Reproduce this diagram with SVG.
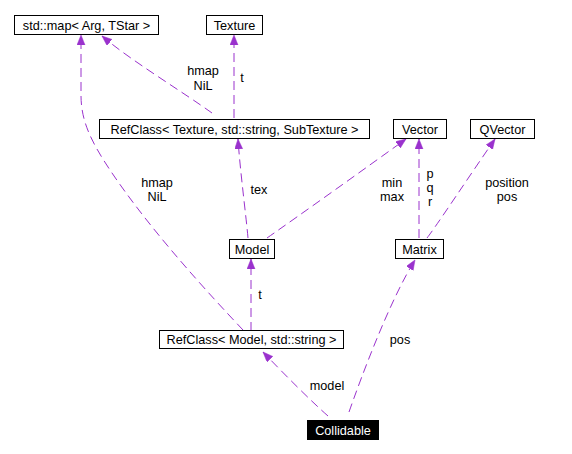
<svg xmlns="http://www.w3.org/2000/svg" width="572" height="454" viewBox="0 0 572 454">
<style>
.box{fill:#fff;stroke:#000;stroke-width:1}
.dark{fill:#000;stroke:#000;stroke-width:1}
text{font-family:"Liberation Sans",Arial,sans-serif;font-size:12.7px;text-anchor:middle;fill:#000}
.wt{fill:#fff}
.e{fill:none;stroke:#9a32cd;stroke-width:1;stroke-dasharray:9,5;marker-end:url(#ah)}
</style>
<defs>
<marker id="ah" markerUnits="userSpaceOnUse" markerWidth="11" markerHeight="9" refX="10" refY="4" orient="auto">
<path d="M0,0 L10,4 L0,8 z" fill="#9a32cd" stroke="#9a32cd" stroke-width="0.5"/>
</marker>
</defs>
<rect width="572" height="454" fill="#fff"/>
<g id="connectors">
<path class="e" d="M328,416 C312,402 285,375 263,352"/>
<text x="327" y="390">model</text>
<path class="e" d="M349,412 C362,375 390,300 415,260"/>
<text x="400" y="344">pos</text>
<path class="e" d="M251,331 L251,259"/>
<text x="260" y="299">t</text>
<path class="e" d="M243,330 C210,295 150,230 110,170 C90,140 81,120 81,95 L81,35"/>
<text x="157" y="187">hmap</text>
<text x="157" y="201">NiL</text>
<path class="e" d="M248,238 C246,215 240,170 238,139"/>
<text x="259" y="194">tex</text>
<path class="e" d="M267,238 C300,215 370,165 406,139"/>
<text x="392" y="187">min</text>
<text x="392" y="201">max</text>
<path class="e" d="M419,238 L419,139"/>
<text x="430" y="178">p</text>
<text x="430" y="192">q</text>
<text x="430" y="206">r</text>
<path class="e" d="M427,238 C435,228 470,175 495,139"/>
<text x="507" y="187">position</text>
<text x="507" y="201">pos</text>
<path class="e" d="M234,118 L234,35"/>
<text x="242" y="82">t</text>
<path class="e" d="M212,113 C180,90 130,60 102,36"/>
<text x="203" y="75">hmap</text>
<text x="203" y="90">NiL</text>
</g>
<g id="stdmap"><rect class="box" x="14.5" y="15.5" width="144" height="19"/><text x="86.5" y="29.5">std::map&lt; Arg, TStar &gt;</text></g>
<g id="texture"><rect class="box" x="206.5" y="15.5" width="56" height="19"/><text x="234.5" y="29.5">Texture</text></g>
<g id="refclass-texture"><rect class="box" x="99.5" y="119.5" width="270" height="19"/><text x="234.5" y="133.5">RefClass&lt; Texture, std::string, SubTexture &gt;</text></g>
<g id="vector"><rect class="box" x="393.5" y="119.5" width="53" height="19"/><text x="420" y="133.5">Vector</text></g>
<g id="qvector"><rect class="box" x="470.5" y="119.5" width="64" height="19"/><text x="502.5" y="133.5">QVector</text></g>
<g id="model"><rect class="box" x="229.5" y="239.5" width="45" height="19"/><text x="252" y="253.5">Model</text></g>
<g id="matrix"><rect class="box" x="395.5" y="239.5" width="48" height="19"/><text x="419.5" y="253.5">Matrix</text></g>
<g id="refclass-model"><rect class="box" x="159.5" y="330.5" width="184" height="18"/><text x="251.5" y="344">RefClass&lt; Model, std::string &gt;</text></g>
<g id="collidable"><rect class="dark" x="307.5" y="420.5" width="71" height="19"/><text class="wt" x="343" y="434.5">Collidable</text></g>
</svg>
